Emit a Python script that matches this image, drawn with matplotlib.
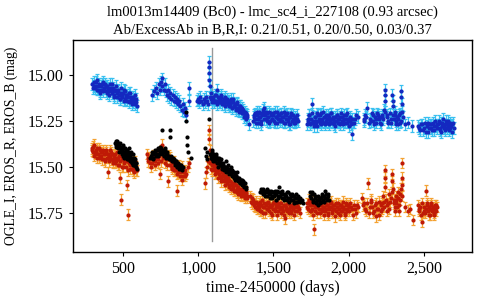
import matplotlib
matplotlib.use("Agg")
import matplotlib.pyplot as plt
from matplotlib.ticker import FuncFormatter, FixedLocator

# ---------------- data ----------------
# EROS_B
b_t = [295,305,312,320,328,335,342,350,357,365,372,380,388,395,402,410,418,425,432,440,448,455,462,470,478,485,492,500,508,515,522,530,538,545,552,560,568,575,582,590,
       693,705,718,728,738,745,752,758,763,770,778,785,792,800,808,815,822,830,838,845,852,860,868,875,882,890,898,905,912,920,940,942,
       993,1000,1008,1015,1022,1030,1038,1045,1052,1060,1066,1073,1073,1074,1075,1076,1082,1088,1095,1102,1110,1118,1125,1132,1140,1148,1155,1162,1170,1178,1185,1192,1200,1208,1215,1222,1230,1238,1245,1252,1260,1268,1275,1282,1290,1298,1305,1312,1320,1328,1340,
       1365,1372,1380,1388,1395,1402,1410,1418,1425,1432,1440,1448,1455,1462,1470,1478,1485,1492,1500,1508,1515,1522,1530,1538,1545,1552,1560,1568,1575,1582,1590,1598,1605,1612,1620,1628,1635,1642,1650,1660,
       1725,1732,1740,1748,1755,1762,1770,1778,1785,1792,1800,1808,1815,1822,1830,1838,1845,1852,1860,1868,1875,1882,1890,1898,1905,1912,1920,1928,1935,1942,1950,1958,1965,1972,1980,1988,1995,2002,2010,2020,2030,2045,2060,
       2100,2112,2125,2135,2150,2160,2170,2180,2190,2200,2210,2220,2228,2235,2240,2240,2241,2245,2252,2260,2275,2285,2290,2292,2293,2298,2305,2312,2320,2330,2340,2348,2350,2351,2352,2355,2360,
       2375,2392,2420,
       2462,2475,2488,2500,2512,2525,2535,2545,2555,2565,2575,2585,2595,2605,2612,2620,2628,2635,2642,2650,2658,2665,2672,2680,2690,2700]
b_m = [15.05,15.04,15.07,15.06,15.03,15.08,15.05,15.10,15.06,15.04,15.07,15.05,15.09,15.06,15.08,15.11,15.07,15.05,15.09,15.12,15.08,15.06,15.10,15.09,15.13,15.07,15.11,15.10,15.14,15.09,15.12,15.11,15.15,15.10,15.13,15.16,15.12,15.14,15.11,15.15,
       15.11,15.09,15.07,15.10,15.05,15.08,15.04,15.02,15.06,15.08,15.05,15.09,15.11,15.08,15.12,15.10,15.13,15.11,15.14,15.12,15.15,15.13,15.16,15.14,15.17,15.19,15.16,15.20,15.18,15.22,15.07,15.14,
       15.14,15.13,15.15,15.12,15.14,15.16,15.13,15.15,15.12,15.14,15.16,14.93,14.96,14.99,15.03,15.06,15.12,15.10,15.15,15.13,15.11,15.14,15.08,15.12,15.15,15.13,15.11,15.14,15.16,15.12,15.15,15.13,15.16,15.14,15.17,15.15,15.13,15.17,15.16,15.18,15.15,15.19,15.17,15.20,15.18,15.21,15.23,15.20,15.24,15.22,15.27,
       15.25,15.22,15.24,15.20,15.26,15.23,15.21,15.25,15.22,15.19,15.18,15.24,15.21,15.23,15.20,15.25,15.22,15.24,15.21,15.26,15.23,15.20,15.24,15.22,15.25,15.21,15.23,15.26,15.22,15.24,15.21,15.25,15.23,15.27,15.22,15.24,15.26,15.23,15.25,15.24,
       15.27,15.24,15.22,15.26,15.16,15.25,15.28,15.23,15.26,15.21,15.25,15.22,15.27,15.24,15.20,15.26,15.23,15.25,15.22,15.27,15.24,15.21,15.26,15.23,15.25,15.28,15.22,15.24,15.26,15.23,15.21,15.25,15.27,15.24,15.22,15.26,15.24,15.28,15.25,15.32,15.26,15.24,15.23,
       15.24,15.22,15.18,15.26,15.25,15.22,15.27,15.24,15.21,15.23,15.26,15.22,15.24,15.19,15.08,15.11,15.14,15.20,15.23,15.26,15.21,15.24,15.11,15.14,15.17,15.22,15.20,15.25,15.23,15.27,15.21,15.25,15.09,15.12,15.16,15.20,15.23,
       15.27,15.26,15.28,
       15.28,15.30,15.27,15.29,15.31,15.26,15.29,15.27,15.30,15.28,15.25,15.29,15.27,15.30,15.26,15.28,15.24,15.29,15.27,15.25,15.28,15.30,15.26,15.28,15.27,15.29]
b_t_more = [298,310,318,325,338,346,354,362,370,377,385,392,400,407,415,422,430,437,444,452,460,467,474,482,490,497,505,512,520,527,535,542,550,557,565,572,580,587,595,
            1085,1098,1105,1114,1121,1128,1136,1144,1151,1159,1166,1174,1181,1189,1196,1204,1211,1219,1226,1234,1241,1249,1256,1264,1271,1279,1286,1294,1301,1309,1316,1324,
            1368,1376,1384,1392,1399,1406,1414,1421,1429,1436,1444,1451,1459,1466,1474,1481,1489,1496,1504,1511,1519,1526,1534,1541,1549,1556,1564,1571,1579,1586,1594,1601,1609,1616,1624,1631,1639,1646,1655,1665,
            1728,1736,1744,1751,1759,1766,1774,1781,1789,1796,1804,1811,1819,1826,1834,1841,1849,1856,1864,1871,1879,1886,1894,1901,1909,1916,1924,1931,1939,1946,1954,1961,1969,1976,1984,1991,1999,2006,2015,2025,2038,2052,
            2105,2118,2142,2155,2165,2175,2185,2195,2205,2215,2225,2255,2265,2280,2302,2308,2316,2325,2335,2344,
            2468,2481,2494,2506,2518,2530,2540,2550,2560,2570,2580,2590,2600,2608,2616,2624,2632,2639,2646,2654,2661,2668,2676,2685,2695]
b_m_more = [15.07,15.06,15.04,15.08,15.06,15.09,15.08,15.05,15.09,15.07,15.06,15.10,15.07,15.09,15.05,15.08,15.10,15.07,15.11,15.09,15.12,15.08,15.11,15.13,15.10,15.12,15.08,15.13,15.11,15.14,15.12,15.10,15.14,15.12,15.15,15.13,15.16,15.13,15.17,
            15.13,15.12,15.15,15.14,15.11,15.16,15.13,15.15,15.12,15.16,15.14,15.13,15.17,15.15,15.14,15.17,15.16,15.13,15.18,15.15,15.17,15.19,15.16,15.18,15.20,15.17,15.19,15.21,15.19,15.22,15.21,15.23,
            15.23,15.21,15.26,15.22,15.24,15.20,15.23,15.27,15.21,15.24,15.22,15.20,15.25,15.23,15.26,15.21,15.24,15.22,15.25,15.20,15.23,15.26,15.22,15.24,15.21,15.25,15.23,15.20,15.26,15.22,15.24,15.27,15.23,15.21,15.25,15.22,15.24,15.26,15.22,15.25,
            15.25,15.22,15.27,15.24,15.21,15.26,15.23,15.25,15.28,15.22,15.24,15.26,15.21,15.25,15.23,15.27,15.22,15.24,15.26,15.23,15.25,15.21,15.24,15.27,15.23,15.25,15.22,15.26,15.24,15.27,15.23,15.25,15.22,15.26,15.24,15.21,15.25,15.23,15.27,15.24,15.26,15.22,
            15.25,15.23,15.24,15.21,15.25,15.23,15.26,15.22,15.24,15.27,15.23,15.22,15.25,15.26,15.24,15.22,15.27,15.24,15.22,15.26,
            15.29,15.27,15.30,15.26,15.28,15.31,15.27,15.29,15.26,15.30,15.28,15.27,15.25,15.29,15.31,15.26,15.28,15.30,15.27,15.29,15.25,15.27,15.29,15.31,15.26]
b_err = 0.032

# EROS_R
r_t = [292,300,308,315,322,330,338,345,352,360,368,375,382,390,398,400,405,412,420,428,435,442,450,458,465,472,480,487,495,502,510,518,526,533,540,548,555,562,570,578,585,593,
       660,668,675,685,695,705,715,725,735,745,752,760,768,775,782,790,798,805,812,820,828,835,842,850,858,865,872,880,888,895,905,915,930,938,
       1045,1052,1060,1068,1073,1075,1078,1085,1090,1095,1100,1106,1112,1118,1125,1132,1140,1148,1155,1162,1170,1178,1185,1192,1200,1208,1215,1222,1230,1238,1245,1252,1260,1268,1275,1282,1290,1298,1305,1312,1320,1328,
       1345,1355,1365,1375,1385,1395,1402,1410,1418,1425,1432,1440,1448,1455,1462,1470,1478,1485,1492,1500,1508,1515,1522,1530,1538,1545,1552,1560,1568,1575,1582,1590,1598,1605,1612,1620,1628,1635,1642,1650,1660,1670,
       1722,1730,1738,1745,1752,1760,1768,1775,1782,1790,1798,1805,1812,1820,1828,1835,1842,1850,1858,1865,1872,1880,1888,1895,1902,1910,1918,1925,1932,1940,1948,1955,1962,1970,1978,1985,1992,2000,2010,2020,2035,2050,2065,
       2088,2100,2115,2128,2140,2152,2165,2175,2185,2195,2205,2212,2220,2228,2235,2240,2240,2242,2248,2255,2262,2270,2282,2288,2290,2295,2300,2306,2312,2318,2325,2332,2340,2348,2352,2352,2355,2358,
       2378,2392,2410,2425,
       2462,2470,2480,2490,2498,2505,2512,2520,2528,2535,2542,2550,2558,2565,2572,2580,2588]
r_m = [15.40,15.42,15.38,15.43,15.41,15.45,15.40,15.44,15.42,15.46,15.41,15.43,15.47,15.42,15.45,15.53,15.44,15.41,15.46,15.43,15.47,15.44,15.48,15.42,15.46,15.49,15.56,15.68,15.45,15.50,15.47,15.44,15.60,15.76,15.48,15.51,15.46,15.49,15.52,15.47,15.50,15.52,
       15.43,15.47,15.45,15.50,15.48,15.44,15.47,15.43,15.46,15.54,15.41,15.38,15.45,15.42,15.48,15.46,15.58,15.44,15.49,15.47,15.51,15.48,15.52,15.50,15.63,15.53,15.49,15.55,15.51,15.57,15.53,15.55,15.50,15.48,
       15.59,15.53,15.50,15.47,15.30,15.35,15.41,15.46,15.49,15.52,15.48,15.51,15.54,15.50,15.53,15.56,15.52,15.55,15.58,15.54,15.57,15.60,15.55,15.58,15.56,15.61,15.58,15.60,15.62,15.59,15.63,15.60,15.64,15.61,15.63,15.65,15.62,15.64,15.66,15.63,15.65,15.67,
       15.66,15.70,15.68,15.72,15.69,15.73,15.70,15.74,15.71,15.68,15.75,15.72,15.70,15.73,15.69,15.74,15.71,15.72,15.76,15.70,15.73,15.71,15.69,15.74,15.72,15.70,15.75,15.73,15.71,15.78,15.72,15.74,15.70,15.73,15.71,15.75,15.72,15.69,15.74,15.72,15.71,15.73,
       15.70,15.73,15.68,15.71,15.74,15.69,15.84,15.72,15.70,15.75,15.71,15.73,15.69,15.74,15.72,15.76,15.70,15.73,15.71,15.75,15.72,15.69,15.74,15.71,15.73,15.77,15.70,15.72,15.75,15.71,15.74,15.72,15.69,15.73,15.76,15.71,15.74,15.72,15.70,15.73,15.71,15.75,15.72,
       15.67,15.70,15.74,15.59,15.72,15.68,15.75,15.71,15.77,15.73,15.69,15.74,15.70,15.66,15.72,15.52,15.56,15.61,15.68,15.74,15.70,15.65,15.67,15.54,15.58,15.62,15.68,15.72,15.66,15.70,15.64,15.74,15.68,15.62,15.48,15.56,15.60,15.66,
       15.72,15.74,15.73,15.79,
       15.71,15.74,15.76,15.80,15.72,15.75,15.63,15.71,15.74,15.72,15.76,15.70,15.73,15.75,15.71,15.74,15.72]
r_t_more = [296,304,311,318,326,334,341,348,356,364,371,378,386,394,402,409,416,424,431,438,446,454,461,468,476,483,491,498,506,514,521,529,537,544,551,559,566,574,581,589,
            664,680,690,700,710,720,730,740,756,772,786,794,810,824,838,846,854,862,870,884,892,900,910,920,
            1081,1088,1097,1103,1109,1115,1121,1128,1136,1144,1151,1159,1166,1174,1181,1189,1196,1204,1211,1219,1226,1234,1241,1249,1256,1264,1271,1279,1286,1294,1301,1309,1316,1324,
            1350,1360,1370,1380,1390,1398,1406,1414,1421,1429,1436,1444,1451,1459,1466,1474,1481,1489,1496,1504,1511,1519,1526,1534,1541,1549,1556,1564,1571,1579,1586,1594,1601,1609,1616,1624,1631,1639,1646,1655,1665,1678,
            1726,1734,1742,1749,1756,1764,1772,1779,1786,1794,1801,1809,1816,1824,1831,1839,1846,1854,1861,1869,1876,1884,1891,1899,1906,1914,1921,1929,1936,1944,1951,1959,1966,1974,1981,1989,1996,2005,2015,2028,2042,2057,
            2094,2108,2122,2134,2146,2158,2170,2180,2190,2200,2216,2224,2232,2258,2266,2276,2286,2303,2309,2315,2322,2328,2336,2344,
            2466,2475,2485,2494,2502,2516,2524,2532,2539,2546,2554,2562,2569,2576,2584]
r_m_more = [15.41,15.39,15.44,15.42,15.40,15.43,15.45,15.41,15.44,15.42,15.46,15.43,15.41,15.45,15.43,15.47,15.44,15.42,15.48,15.45,15.43,15.47,15.45,15.49,15.44,15.47,15.50,15.46,15.48,15.45,15.50,15.47,15.52,15.49,15.47,15.51,15.48,15.53,15.50,15.52,
            15.45,15.48,15.46,15.44,15.49,15.45,15.48,15.44,15.47,15.44,15.46,15.49,15.45,15.50,15.47,15.52,15.49,15.54,15.51,15.53,15.50,15.55,15.52,15.54,
            15.48,15.51,15.47,15.50,15.52,15.49,15.53,15.51,15.54,15.52,15.56,15.53,15.55,15.58,15.56,15.59,15.57,15.60,15.58,15.62,15.59,15.61,15.63,15.60,15.62,15.65,15.62,15.64,15.66,15.63,15.65,15.67,15.64,15.66,
            15.69,15.67,15.71,15.70,15.73,15.71,15.72,15.69,15.74,15.72,15.70,15.75,15.71,15.73,15.70,15.72,15.75,15.71,15.73,15.69,15.74,15.72,15.76,15.71,15.73,15.70,15.72,15.74,15.76,15.71,15.73,15.70,15.75,15.72,15.74,15.71,15.73,15.76,15.70,15.74,15.72,15.75,
            15.72,15.70,15.74,15.71,15.73,15.76,15.71,15.74,15.72,15.70,15.73,15.75,15.71,15.73,15.69,15.72,15.74,15.71,15.76,15.73,15.70,15.72,15.75,15.73,15.71,15.74,15.72,15.70,15.73,15.76,15.71,15.74,15.72,15.75,15.70,15.73,15.71,15.74,15.72,15.76,15.73,15.71,
            15.71,15.73,15.70,15.75,15.69,15.72,15.74,15.70,15.73,15.76,15.71,15.73,15.69,15.71,15.73,15.69,15.64,15.70,15.74,15.68,15.72,15.67,15.71,15.65,
            15.73,15.72,15.70,15.75,15.74,15.73,15.70,15.76,15.73,15.71,15.74,15.72,15.76,15.73,15.71]
r_err = 0.029

# OGLE_I
i_t = [450,455,460,465,470,475,480,485,490,495,500,505,510,515,520,525,530,535,540,545,550,555,560,565,570,575,580,585,590,
       682,690,698,706,714,722,730,738,745,752,759,766,773,780,788,795,803,812,812,820,828,836,844,852,860,868,876,884,892,900,918,918,924,924,932,951,
       1045,1050,1056,1062,1073,1080,1086,1092,1098,1104,1110,1116,1122,1128,1134,1140,1146,1152,1158,1164,1170,1176,1182,1188,1194,1200,1206,1212,1218,1224,1230,1236,1242,1248,1254,1260,1266,1272,1278,1284,1290,1296,1302,1310,1320,
       1412,1420,1428,1436,1444,1452,1460,1468,1476,1484,1492,1500,1508,1516,1524,1532,1540,1548,1556,1564,1572,1580,1588,1596,1604,1612,1620,1628,1636,1644,1652,1660,1670,1680,1695,
       1742,1750,1758,1766,1774,1782,1790,1798,1806,1814,1822,1830,1838,1846,1854,1862,1872]
i_m = [15.37,15.39,15.36,15.40,15.38,15.42,15.37,15.41,15.39,15.43,15.38,15.42,15.45,15.40,15.44,15.41,15.46,15.43,15.40,15.47,15.44,15.42,15.48,15.45,15.43,15.49,15.46,15.50,15.48,
       15.45,15.42,15.46,15.43,15.41,15.44,15.40,15.43,15.39,15.42,15.30,15.41,15.44,15.40,15.45,15.43,15.46,15.30,15.34,15.44,15.47,15.45,15.49,15.47,15.50,15.48,15.51,15.49,15.52,15.50,15.20,15.25,15.34,15.38,15.42,15.45,
       15.40,15.44,15.42,15.46,15.24,15.43,15.45,15.41,15.47,15.44,15.46,15.43,15.48,15.45,15.50,15.47,15.49,15.46,15.51,15.48,15.52,15.50,15.47,15.53,15.51,15.49,15.54,15.52,15.50,15.55,15.53,15.56,15.54,15.57,15.55,15.53,15.58,15.56,15.59,15.57,15.60,15.58,15.61,15.59,15.62,
       15.64,15.62,15.65,15.63,15.66,15.64,15.62,15.65,15.67,15.63,15.66,15.64,15.65,15.68,15.63,15.66,15.61,15.64,15.67,15.65,15.68,15.66,15.64,15.67,15.69,15.65,15.68,15.66,15.70,15.67,15.65,15.69,15.68,15.67,15.70,
       15.64,15.67,15.65,15.69,15.66,15.70,15.68,15.71,15.67,15.69,15.65,15.68,15.66,15.63,15.67,15.65,15.68]
i_t_more = [452,457,462,467,472,477,482,487,492,497,502,507,512,517,522,527,532,537,542,547,552,557,562,567,572,577,582,587,592,
            686,694,702,710,718,726,734,742,749,756,763,770,777,784,792,799,807,816,824,832,840,848,856,864,872,880,888,896,
            1083,1089,1095,1101,1107,1113,1119,1125,1131,1137,1143,1149,1155,1161,1167,1173,1179,1185,1191,1197,1203,1209,1215,1221,1227,1233,1239,1245,1251,1257,1263,1269,1275,1281,1287,1293,1299,1306,1315,
            1416,1424,1432,1440,1448,1456,1464,1472,1480,1488,1496,1504,1512,1520,1528,1536,1544,1552,1560,1568,1576,1584,1592,1600,1608,1616,1624,1632,1640,1648,1656,1665,1675,1688,
            1746,1754,1762,1770,1778,1786,1794,1802,1810,1818,1826,1834,1842,1850,1858,1866]
i_m_more = [15.38,15.36,15.39,15.37,15.40,15.38,15.39,15.42,15.40,15.41,15.44,15.40,15.43,15.42,15.41,15.45,15.42,15.46,15.44,15.43,15.47,15.45,15.46,15.49,15.47,15.45,15.49,15.48,15.51,
            15.44,15.43,15.45,15.42,15.43,15.41,15.44,15.41,15.42,15.40,15.43,15.42,15.41,15.43,15.42,15.44,15.45,15.46,15.45,15.47,15.46,15.48,15.47,15.49,15.50,15.49,15.51,15.50,
            15.44,15.42,15.46,15.43,15.45,15.47,15.44,15.46,15.48,15.45,15.47,15.49,15.48,15.50,15.49,15.51,15.50,15.52,15.50,15.53,15.52,15.51,15.53,15.54,15.52,15.55,15.53,15.56,15.55,15.57,15.56,15.58,15.57,15.59,15.58,15.57,15.60,15.59,15.61,
            15.63,15.64,15.62,15.65,15.63,15.66,15.64,15.63,15.65,15.67,15.64,15.66,15.63,15.65,15.67,15.64,15.66,15.65,15.63,15.67,15.65,15.66,15.68,15.64,15.67,15.66,15.65,15.68,15.66,15.69,15.67,15.66,15.69,15.68,
            15.66,15.64,15.68,15.65,15.67,15.69,15.66,15.68,15.70,15.67,15.66,15.69,15.67,15.65,15.68,15.66]

event_t = 1095
event_range = [14.853, 15.905]

title_lines = ["lm0013m14409 (Bc0) - lmc_sc4_i_227108 (0.93 arcsec)",
               "Ab/ExcessAb in B,R,I: 0.21/0.51, 0.20/0.50, 0.03/0.37"]
x_label = "time-2450000 (days)"
y_label = "OGLE_I, EROS_R, EROS_B (mag)"
x_ticks = [500, 1000, 1500, 2000, 2500]
y_ticks = [15.00, 15.25, 15.50, 15.75]

# ---------------- plot ----------------
plt.rcParams['font.family'] = ['Liberation Serif', 'DejaVu Serif']

fig = plt.figure(figsize=(4.8, 3.0), dpi=100)
ax = fig.add_axes([0.152, 0.16, 0.831, 0.707])

bt = b_t + b_t_more
bm = b_m + b_m_more
rt = r_t + r_t_more
rm = r_m + r_m_more
it = i_t + i_t_more
im = i_m + i_m_more

ms = 3.0
ax.errorbar(bt, bm, yerr=b_err, fmt='none', ecolor='#38c0f0', elinewidth=0.9,
            capsize=1.6, capthick=0.9, zorder=2)
ax.plot(bt, bm, 'o', color='#1428c0', ms=ms, mew=0, zorder=3)

ax.errorbar(rt, rm, yerr=r_err, fmt='none', ecolor='#f4a232', elinewidth=0.9,
            capsize=1.6, capthick=0.9, zorder=2)
ax.plot(rt, rm, 'o', color='#bf1a06', ms=ms, mew=0, zorder=3)

ax.plot(it, im, 'o', color='black', ms=ms, mew=0, zorder=4)

ax.plot([event_t, event_t], event_range, color='#999999', lw=1.0, zorder=1)

ax.set_xlim(168, 2819)
ax.set_ylim(15.964, 14.81)
ax.xaxis.set_major_locator(FixedLocator(x_ticks))
ax.yaxis.set_major_locator(FixedLocator(y_ticks))
ax.xaxis.set_major_formatter(FuncFormatter(lambda v, p: f"{v:,.0f}"))
ax.yaxis.set_major_formatter(FuncFormatter(lambda v, p: f"{v:.2f}"))
ax.tick_params(direction='out', length=3, width=0.8, labelsize=11.5, top=False, right=False)
for s in ax.spines.values():
    s.set_linewidth(1.0)

ax.set_xlabel(x_label, fontsize=11.5, labelpad=2)
ax.set_ylabel(y_label, fontsize=9.8, labelpad=7)
ax.set_title("\n".join(title_lines), fontsize=10.5, pad=5, linespacing=1.35)

fig.savefig("out.png", dpi=100)
